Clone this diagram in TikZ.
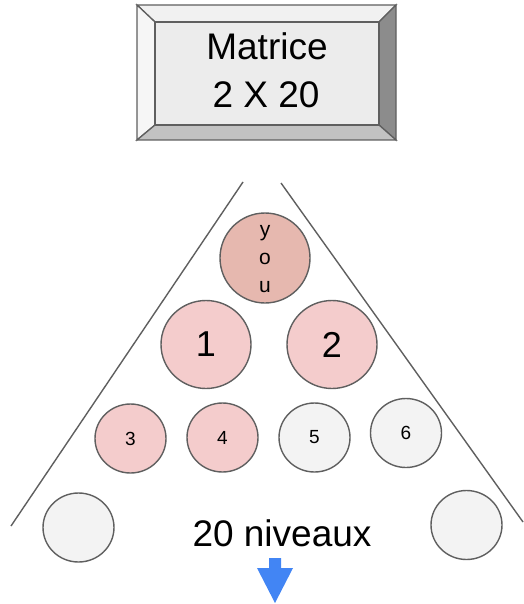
\documentclass[tikz,border=0pt]{standalone}
\usepackage{fontspec}
\setmainfont{Liberation Sans}
\usetikzlibrary{shapes.geometric}
\definecolor{edgec}{HTML}{5F5F5F}
\definecolor{pinkc}{HTML}{F4CCCC}
\definecolor{youc}{HTML}{E6B8AF}
\definecolor{greyc}{HTML}{F3F3F3}
\definecolor{facec}{HTML}{ECECEC}
\definecolor{btop}{HTML}{F1F1F1}
\definecolor{bleft}{HTML}{F6F6F6}
\definecolor{bright}{HTML}{8C8C8C}
\definecolor{bbottom}{HTML}{C2C2C2}
\definecolor{arrowc}{HTML}{4285F4}
\tikzset{
  bevel/.style={draw=edgec, line width=1.3pt, line join=miter},
  ball/.style={ellipse, draw=edgec, line width=1.4pt, inner sep=0pt},
  bigball/.style={ball, fill=pinkc, minimum width=90, minimum height=88, font=\fontsize{36}{40}\selectfont},
  smallball/.style={ball, minimum width=71, minimum height=69, font=\fontsize{19}{22}\selectfont},
  side/.style={draw=edgec, line width=1.4pt},
  bigtxt/.style={anchor=base, inner sep=0pt, font=\fontsize{37}{40}\selectfont},
}
\begin{document}
\begin{tikzpicture}[x=1pt,y=-1pt]
\useasboundingbox (0,0) rectangle (523,604);
% bevel box
\filldraw[bevel, fill=btop] (137,5) -- (396,5) -- (379,22) -- (155,22) -- cycle;
\filldraw[bevel, fill=bleft] (137,5) -- (155,22) -- (155,125) -- (137,140) -- cycle;
\filldraw[bevel, fill=bright] (396,5) -- (396,140) -- (379,125) -- (379,22) -- cycle;
\filldraw[bevel, fill=bbottom] (137,140) -- (396,140) -- (379,125) -- (155,125) -- cycle;
\filldraw[bevel, fill=facec] (155,22) rectangle (379,125);
\node[bigtxt] (mat1) at (267,60) {Matrice};
\node[bigtxt] (mat2) at (266,108) {2 X 20};
% triangle sides
\coordinate (tl) at (243,182);
\coordinate (bl) at (11,526);
\coordinate (tr) at (281,183);
\coordinate (br) at (523,522);
\draw[side] (tl) -- (bl);
\draw[side] (tr) -- (br);
% circles
\node[ball, fill=youc, minimum width=90, minimum height=90] (you) at (265,258) {};
\node[align=center, inner sep=0pt, font=\fontsize{21}{28}\selectfont] (youtxt) at (265,259) {y\\o\\u};
\node[bigball] (c1) at (206,344.5) {1};
\node[bigball] (c2) at (332,344.5) {2};
\node[smallball, fill=pinkc] (c3) at (130.5,438.5) {3};
\node[smallball, fill=pinkc] (c4) at (222.5,437.5) {4};
\node[smallball, fill=greyc] (c5) at (314.5,437.5) {5};
\node[smallball, fill=greyc] (c6) at (406,433) {6};
\node[smallball, fill=greyc] (c7) at (78.5,527.5) {};
\node[smallball, fill=greyc] (c8) at (466.5,525) {};
\node[bigtxt] (lev) at (282,546) {20 niveaux};
% arrow
\fill[arrowc] (269,558) -- (281,558) -- (281,568) -- (293,568) -- (275,603) -- (257,568) -- (269,568) -- cycle;
\end{tikzpicture}
\end{document}
